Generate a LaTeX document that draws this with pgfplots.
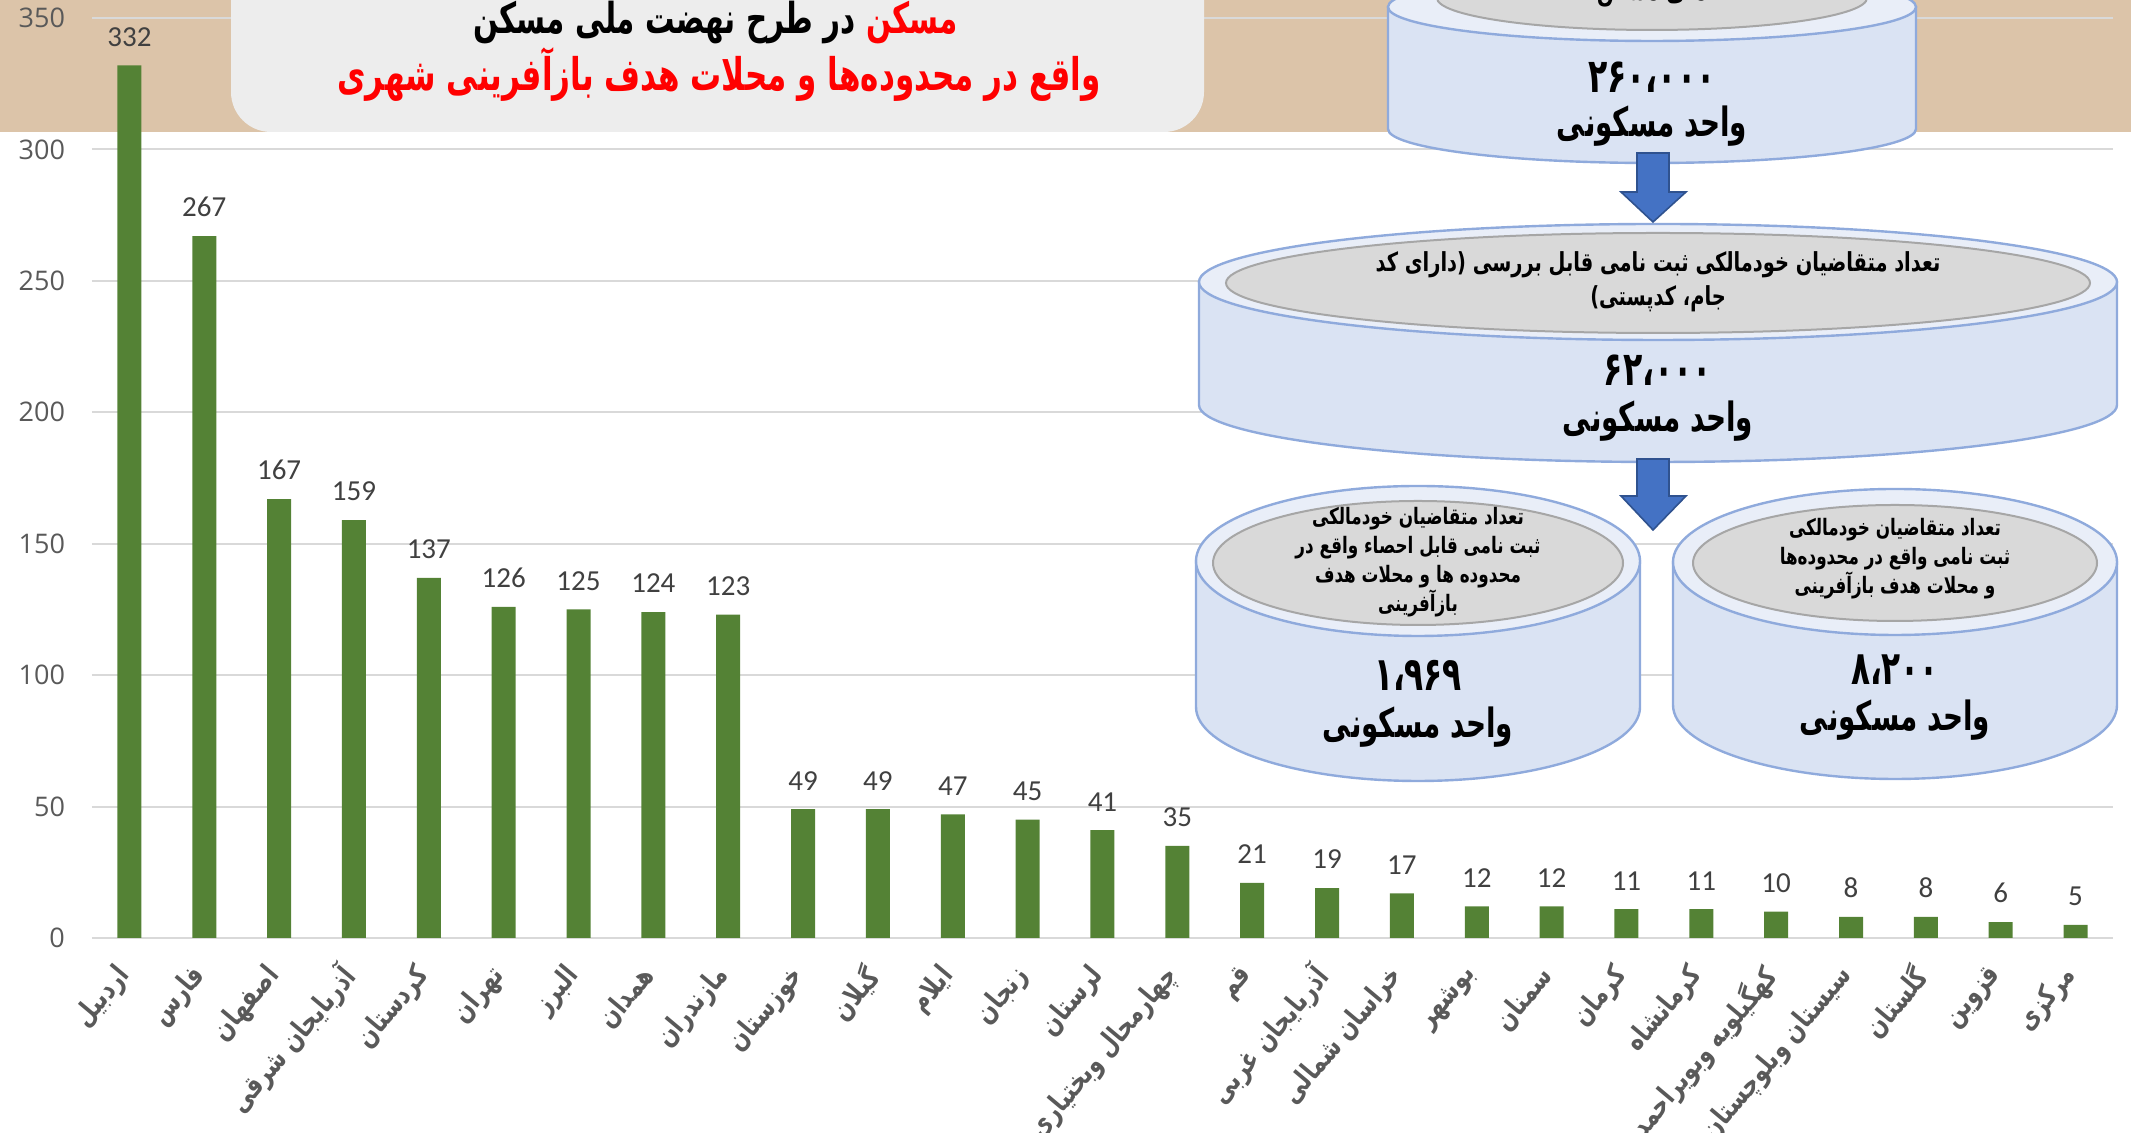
\documentclass[border=0pt]{standalone}
\usepackage{graphicx}
\usepackage{pgfplots}
\pgfplotsset{compat=1.18}
\usepackage{fontspec}
\setmainfont{Open Sans}
\newfontfamily\farsi[Script=Arabic]{DejaVu Sans}
\newfontfamily\carlito{Carlito}
\TeXXeTstate=1
\newcommand\tall[2][1.35]{\scalebox{1}[#1]{#2}}
\newcommand\fa[1]{\tall[1.3]{\farsi\bfseries\beginR #1\endR}}
\definecolor{bargreen}{HTML}{548235}
\definecolor{beige}{HTML}{DCC4A9}
\definecolor{titlegray}{HTML}{EDEDED}
\definecolor{gridgray}{HTML}{D9D9D9}
\definecolor{labelgray}{HTML}{404040}
\definecolor{tickgray}{HTML}{595959}
\definecolor{catgray}{HTML}{595959}
\definecolor{cylbody}{HTML}{DAE3F3}
\definecolor{cylrim}{HTML}{E9EEF8}
\definecolor{cylline}{HTML}{8FAADC}
\definecolor{innergray}{HTML}{D9D9D9}
\definecolor{innerline}{HTML}{A6A6A6}
\definecolor{arrowblue}{HTML}{4472C4}
\definecolor{arrowdark}{HTML}{2F528F}
\definecolor{titlered}{HTML}{FF0000}
\begin{document}
\begin{tikzpicture}
\useasboundingbox (0,0) rectangle (1065.5pt,566.5pt);
\begin{scope}[x=0.5pt,y=-0.5pt,shift={(0pt,566.5pt)}]
  \fill[beige] (0,-10) rectangle (2131,132);
\end{scope}
\begin{axis}[
  at={(46pt,97.5pt)}, anchor=south west,
  scale only axis, width=1010.5pt, height=460pt,
  xmin=-0.5, xmax=26.5, ymin=0, ymax=350,
  ytick={0,50,...,350},
  xtick={0,...,26},
  xticklabels={\fa{اردبیل},\fa{فارس},\fa{اصفهان},\fa{آذربایجان شرقی},\fa{کردستان},\fa{تهران},\fa{البرز},\fa{همدان},\fa{مازندران},\fa{خوزستان},\fa{گیلان},\fa{ایلام},\fa{زنجان},\fa{لرستان},\fa{چهارمحال وبختیاری},\fa{قم},\fa{آذربایجان غربی},\fa{خراسان شمالی},\fa{بوشهر},\fa{سمنان},\fa{کرمان},\fa{کرمانشاه},\fa{کهگیلویه وبویراحمد},\fa{سیستان وبلوچستان},\fa{گلستان},\fa{قزوین},\fa{مرکزی}},
  ymajorgrids, grid style={draw=gridgray, line width=1pt},
  axis line style={draw=none},
  major tick length=0pt,
  ybar, bar width=12pt,
  nodes near coords,
  nodes near coords style={font=\carlito\fontsize{14.5}{16}\selectfont, text=labelgray, yshift=6pt},
  /pgf/number format/assume math mode=true,
  yticklabel style={font=\fontsize{13.5}{15}\selectfont, text=tickgray},
  yticklabel shift=10pt,
  xticklabel style={rotate=50, anchor=east, font=\fontsize{11}{13}\selectfont, text=catgray},
  xticklabel shift=14pt,
  clip=false,
]
\addplot[fill=bargreen, draw=none] coordinates {
(0,332) (1,267) (2,167) (3,159) (4,137) (5,126) (6,125) (7,124) (8,123)
(9,49) (10,49) (11,47) (12,45) (13,41) (14,35) (15,21) (16,19) (17,17)
(18,12) (19,12) (20,11) (21,11) (22,10) (23,8) (24,8) (25,6) (26,5)};
\end{axis}
\begin{scope}[x=0.5pt,y=-0.5pt,shift={(0pt,566.5pt)}]
  % title box
  \fill[titlegray, rounded corners=20pt] (231,-80) rectangle (1204,132);
  \node[font=\farsi\bfseries\fontsize{14.7}{18}\selectfont, anchor=east, inner sep=0pt] at (856,23) {\tall[1.45]{\beginR در طرح نهضت ملی مسکن\endR}};
  \node[font=\farsi\bfseries\fontsize{14.7}{18}\selectfont, anchor=west, inner sep=0pt, text=titlered] at (866,23) {\tall[1.45]{\beginR مسکن\endR}};
  \node[font=\farsi\bfseries\fontsize{15.5}{18}\selectfont, text=titlered] at (719,75) {\tall[1.45]{\beginR واقع در محدوده‌ها و محلات هدف بازآفرینی شهری\endR}};
  % top cylinder
  \filldraw[fill=cylbody, draw=cylline, line width=1.2pt] (1388,7) -- (1388,129) arc[start angle=180, end angle=0, x radius=264, y radius=34] -- (1916,7) -- cycle;
  \filldraw[fill=cylrim, draw=cylline, line width=1.2pt] (1652,7) ellipse[x radius=264, y radius=34];
  \filldraw[fill=innergray, draw=innerline, line width=1pt] (1652,-2) ellipse[x radius=215, y radius=32];
  \node[font=\farsi\bfseries\fontsize{10}{12}\selectfont] at (1652,-6) {\tall{\beginR ملی مسکن\endR}};
  \node[font=\farsi\bfseries\fontsize{15.8}{18}\selectfont] at (1652,77) {\tall[1.5]{\beginR ۲۶۰،۰۰۰\endR}};
  \node[font=\farsi\bfseries\fontsize{13.9}{16}\selectfont] at (1652,126) {\tall[1.45]{\beginR واحد مسکونی\endR}};
  % middle cylinder
  \filldraw[fill=cylbody, draw=cylline, line width=1.2pt] (1199,282) -- (1199,405) arc[start angle=180, end angle=0, x radius=459, y radius=57] -- (2117,282) -- cycle;
  \filldraw[fill=cylrim, draw=cylline, line width=1.2pt] (1658,282) ellipse[x radius=459, y radius=58];
  \filldraw[fill=innergray, draw=innerline, line width=1pt] (1658,283) ellipse[x radius=432, y radius=50];
  \node[font=\farsi\bfseries\fontsize{9.7}{17}\selectfont, align=center] at (1658,282) {\tall{\beginR تعداد متقاضیان خودمالکی ثبت نامی قابل بررسی (دارای کد\endR}\\\tall{\beginR جام، کدپستی)\endR}};
  \node[font=\farsi\bfseries\fontsize{15.8}{18}\selectfont] at (1658,370) {\tall[1.5]{\beginR ۶۲،۰۰۰\endR}};
  \node[font=\farsi\bfseries\fontsize{13.9}{16}\selectfont] at (1658,421) {\tall[1.45]{\beginR واحد مسکونی\endR}};
  % bottom-left cylinder
  \filldraw[fill=cylbody, draw=cylline, line width=1.2pt] (1196,561) -- (1196,707) arc[start angle=180, end angle=0, x radius=222, y radius=74] -- (1640,561) -- cycle;
  \filldraw[fill=cylrim, draw=cylline, line width=1.2pt] (1418,561) ellipse[x radius=222, y radius=75];
  \filldraw[fill=innergray, draw=innerline, line width=1pt] (1418,563) ellipse[x radius=205, y radius=62];
  \node[font=\farsi\bfseries\fontsize{8.4}{14.5}\selectfont, align=center] at (1418,562) {\tall{\beginR تعداد متقاضیان خودمالکی\endR}\\\tall{\beginR ثبت نامی قابل احصاء واقع در\endR}\\\tall{\beginR محدوده ها و محلات هدف\endR}\\\tall{\beginR بازآفرینی\endR}};
  \node[font=\farsi\bfseries\fontsize{15.6}{18}\selectfont] at (1418,675) {\tall[1.5]{\beginR ۱،۹۶۹\endR}};
  \node[font=\farsi\bfseries\fontsize{13.9}{16}\selectfont] at (1418,727) {\tall[1.45]{\beginR واحد مسکونی\endR}};
  % bottom-right cylinder
  \filldraw[fill=cylbody, draw=cylline, line width=1.2pt] (1673,562) -- (1673,705) arc[start angle=180, end angle=0, x radius=222, y radius=74] -- (2117,562) -- cycle;
  \filldraw[fill=cylrim, draw=cylline, line width=1.2pt] (1895,562) ellipse[x radius=222, y radius=73];
  \filldraw[fill=innergray, draw=innerline, line width=1pt] (1895,563) ellipse[x radius=202, y radius=58];
  \node[font=\farsi\bfseries\fontsize{8.4}{14.5}\selectfont, align=center] at (1895,559) {\tall{\beginR تعداد متقاضیان خودمالکی\endR}\\\tall{\beginR ثبت نامی واقع در محدوده‌ها\endR}\\\tall{\beginR و محلات هدف بازآفرینی\endR}};
  \node[font=\farsi\bfseries\fontsize{15.6}{18}\selectfont] at (1895,670) {\tall[1.5]{\beginR ۸،۲۰۰\endR}};
  \node[font=\farsi\bfseries\fontsize{13.9}{16}\selectfont] at (1895,720) {\tall[1.45]{\beginR واحد مسکونی\endR}};
  % arrows
  \filldraw[fill=arrowblue, draw=arrowdark, line width=0.8pt] (1637,153) -- (1669,153) -- (1669,192) -- (1686,192) -- (1653,222) -- (1621,192) -- (1637,192) -- cycle;
  \filldraw[fill=arrowblue, draw=arrowdark, line width=0.8pt] (1637,459) -- (1669,459) -- (1669,496) -- (1686,496) -- (1653,530) -- (1621,496) -- (1637,496) -- cycle;
\end{scope}
\end{tikzpicture}
\end{document}
